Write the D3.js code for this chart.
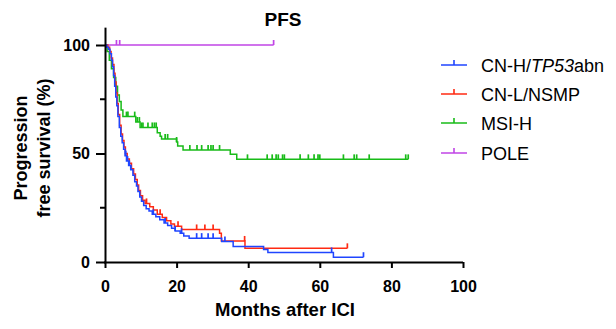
<!DOCTYPE html>
<html>
<head>
<meta charset="utf-8">
<script src="https://cdn.jsdelivr.net/npm/d3@7"></script>
<style>
  body { margin: 0; background: #fff; }
  text { font-family: "Liberation Sans", Arial, sans-serif; }
</style>
</head>
<body>
<svg id="chart" width="616" height="329"></svg>
<script>
// groups + colours
const groups = ["CN-H/TP53abn", "CN-L/NSMP", "MSI-H", "POLE"];
const colors = ["#1f45ff", "#ff2a12", "#18bb18", "#c044e6"];

// CN-H/TP53abn (event times in months, survival % after each event)
const cnhTime = [0, 0.5, 1.0, 1.4, 1.8, 2.1, 2.4, 2.7, 3.0, 3.3, 3.6, 4.0, 4.4, 4.8, 5.2, 5.6, 6.0, 6.6, 7.2, 7.8, 8.3, 8.8, 9.2, 9.7, 10.2, 10.8, 11.5, 12.3, 13.2, 14.2, 15.3, 16.5, 17.5, 18.6, 19.6, 21.0, 22.0, 23.5, 32.6, 35.8, 44.3, 45.5, 63.8];
const cnhSurv = [100, 99, 98, 96, 93, 90, 86, 81, 76, 72, 67, 62, 58, 55, 52, 49, 46.5, 44.5, 42.5, 40, 37, 35, 32.5, 30, 28, 26, 24.5, 23.5, 22, 20.8, 19.5, 18, 16.8, 15.5, 14.3, 13.2, 12, 11, 9.5, 7.2, 5.8, 4.4, 2.2];
const cnhCensor = [5.8, 6.3, 6.8, 7.2, 13.5, 16.8, 19.6, 21.4, 25.6, 27.0, 28.8, 30.2, 33.5, 63.3, 72.2];
const cnhLast = 72.2;

// CN-L/NSMP
const cnlTime = [0, 0.8, 1.3, 1.7, 2.1, 2.5, 2.8, 3.1, 3.4, 3.7, 4.1, 4.5, 4.9, 5.3, 5.7, 6.2, 6.8, 7.4, 8.0, 8.5, 9.0, 9.4, 9.9, 10.5, 11.2, 12.5, 13.5, 14.6, 16.0, 17.2, 18.4, 19.4, 21.4, 32.0, 32.5, 39.1];
const cnlSurv = [100, 99, 97, 94, 91, 87, 83, 78, 73, 68, 63, 59, 56, 53, 50, 47.5, 45.5, 43, 40.5, 38, 35.5, 33, 30.5, 28.5, 27, 25.5, 24, 22, 20.5, 19, 17.5, 16.5, 15, 13.2, 9.7, 6.3];
const cnlCensor = [11.6, 15.4, 20.4, 25.6, 27.9, 30.2, 39.0, 67.7];
const cnlLast = 67.7;

// MSI-H
const msiTime = [0, 0.6, 1.2, 1.8, 2.4, 3.0, 3.5, 4.0, 4.5, 5.0, 8.6, 9.8, 14.6, 15.4, 15.8, 20.0, 20.3, 21.8, 35.0, 36.8];
const msiSurv = [100, 97, 93, 89, 85, 81, 77, 74, 70, 67, 64.5, 62, 59.6, 58, 56.7, 55.3, 53.5, 51.6, 49.6, 47.3];
const msiCensor = [6.0, 6.4, 8.3, 9.0, 9.6, 10.2, 10.6, 12.0, 13.2, 13.8, 14.3, 16.8, 17.5, 20.0, 23.7, 25.7, 27.0, 28.8, 29.6, 30.2, 32.0, 39.8, 45.3, 46.7, 47.8, 48.4, 49.6, 50.1, 54.5, 56.8, 58.4, 59.5, 60.0, 66.6, 69.6, 70.3, 73.8, 84.0, 84.7];
const msiLast = 84.7;

// POLE
const poleTime = [0];
const poleSurv = [100];
const poleCensor = [3.2, 4.1, 47.1];
const poleLast = 47.1;

// axis ticks
const xTicks = [0, 20, 40, 60, 80, 100];
const yTicks = [0, 50, 100];
const yMinor = [25, 75];

const series = [
  { name: groups[3], color: colors[3], t: poleTime, s: poleSurv, c: poleCensor, last: poleLast },
  { name: groups[2], color: colors[2], t: msiTime, s: msiSurv, c: msiCensor, last: msiLast },
  { name: groups[1], color: colors[1], t: cnlTime, s: cnlSurv, c: cnlCensor, last: cnlLast },
  { name: groups[0], color: colors[0], t: cnhTime, s: cnhSurv, c: cnhCensor, last: cnhLast }
];

const svg = d3.select("#chart");
const x = d3.scaleLinear().domain([0, 100]).range([105, 463]);
const y = d3.scaleLinear().domain([0, 108]).range([262, 262 - 108 * 2.17]);

// step value at time t
function survAt(d, t) {
  let v = d.s[0];
  for (let i = 0; i < d.t.length; i++) if (d.t[i] <= t) v = d.s[i];
  return v;
}

const line = d3.line()
  .x(p => x(p[0]))
  .y(p => y(p[1]))
  .curve(d3.curveStepAfter);

const plot = svg.append("g");
series.forEach(d => {
  const pts = d.t.map((t, i) => [t, d.s[i]]);
  pts.push([d.last, d.s[d.s.length - 1]]);
  plot.append("path")
    .attr("d", line(pts))
    .attr("fill", "none")
    .attr("stroke", d.color)
    .attr("stroke-width", 1.5);
  plot.append("g")
    .selectAll("line")
    .data(d.c)
    .join("line")
    .attr("x1", t => x(t)).attr("x2", t => x(t))
    .attr("y1", t => y(survAt(d, t)))
    .attr("y2", t => y(survAt(d, t)) - 5)
    .attr("stroke", d.color)
    .attr("stroke-width", 1.7);
});

// axes
const xAxis = svg.append("g")
  .attr("transform", "translate(0,262)")
  .call(d3.axisBottom(x).tickValues(xTicks).tickSize(6).tickPadding(13));
const yAxis = svg.append("g")
  .attr("transform", "translate(105,0)")
  .call(d3.axisLeft(y).tickValues(yTicks).tickSize(9).tickPadding(6));
[xAxis, yAxis].forEach(a => {
  a.select(".domain").attr("stroke", "#000").attr("stroke-width", 2);
  a.selectAll(".tick line").attr("stroke", "#000").attr("stroke-width", 2);
  a.selectAll(".tick text")
    .attr("fill", "#000")
    .style("font-size", "16px")
    .style("font-weight", "bold")
    .style("font-family", "'Liberation Sans', Arial, sans-serif");
});
xAxis.select(".domain").attr("d", "M104,0.5H463");
yAxis.select(".domain").attr("d", "M0.5," + y(108) + "V262");
yAxis.selectAll(".minor")
  .data(yMinor)
  .join("line")
  .attr("x1", -5).attr("x2", 0)
  .attr("y1", v => y(v)).attr("y2", v => y(v))
  .attr("stroke", "#000").attr("stroke-width", 2);

// titles
svg.append("text")
  .attr("x", 283).attr("y", 26)
  .attr("text-anchor", "middle")
  .style("font-size", "19px").style("font-weight", "bold")
  .text("PFS");

svg.append("text")
  .attr("x", 285).attr("y", 316)
  .attr("text-anchor", "middle")
  .style("font-size", "18.5px").style("font-weight", "bold")
  .text("Months after ICI");

const yTitle = svg.append("text")
  .attr("transform", "translate(0,148) rotate(-90)")
  .attr("text-anchor", "middle")
  .style("font-size", "18px").style("font-weight", "bold");
yTitle.append("tspan").attr("x", 0).attr("y", 27).text("Progression");
yTitle.append("tspan").attr("x", 0).attr("y", 50).text("free survival (%)");

// legend
const legendY = [65, 94, 123, 153];
const leg = svg.append("g");
groups.forEach((g, i) => {
  const row = leg.append("g").attr("transform", `translate(0,${legendY[i]})`);
  row.append("line")
    .attr("x1", 441).attr("x2", 467).attr("y1", 0).attr("y2", 0)
    .attr("stroke", colors[i]).attr("stroke-width", 1.5);
  row.append("line")
    .attr("x1", 454).attr("x2", 454).attr("y1", 0).attr("y2", -5)
    .attr("stroke", colors[i]).attr("stroke-width", 1.6);
  const t = row.append("text")
    .attr("x", 481).attr("y", 6.5)
    .style("font-size", "18px");
  if (i === 0) {
    t.append("tspan").text("CN-H/");
    t.append("tspan").style("font-style", "italic").text("TP53");
    t.append("tspan").text("abn");
  } else {
    t.text(g);
  }
});
</script>
</body>
</html>
